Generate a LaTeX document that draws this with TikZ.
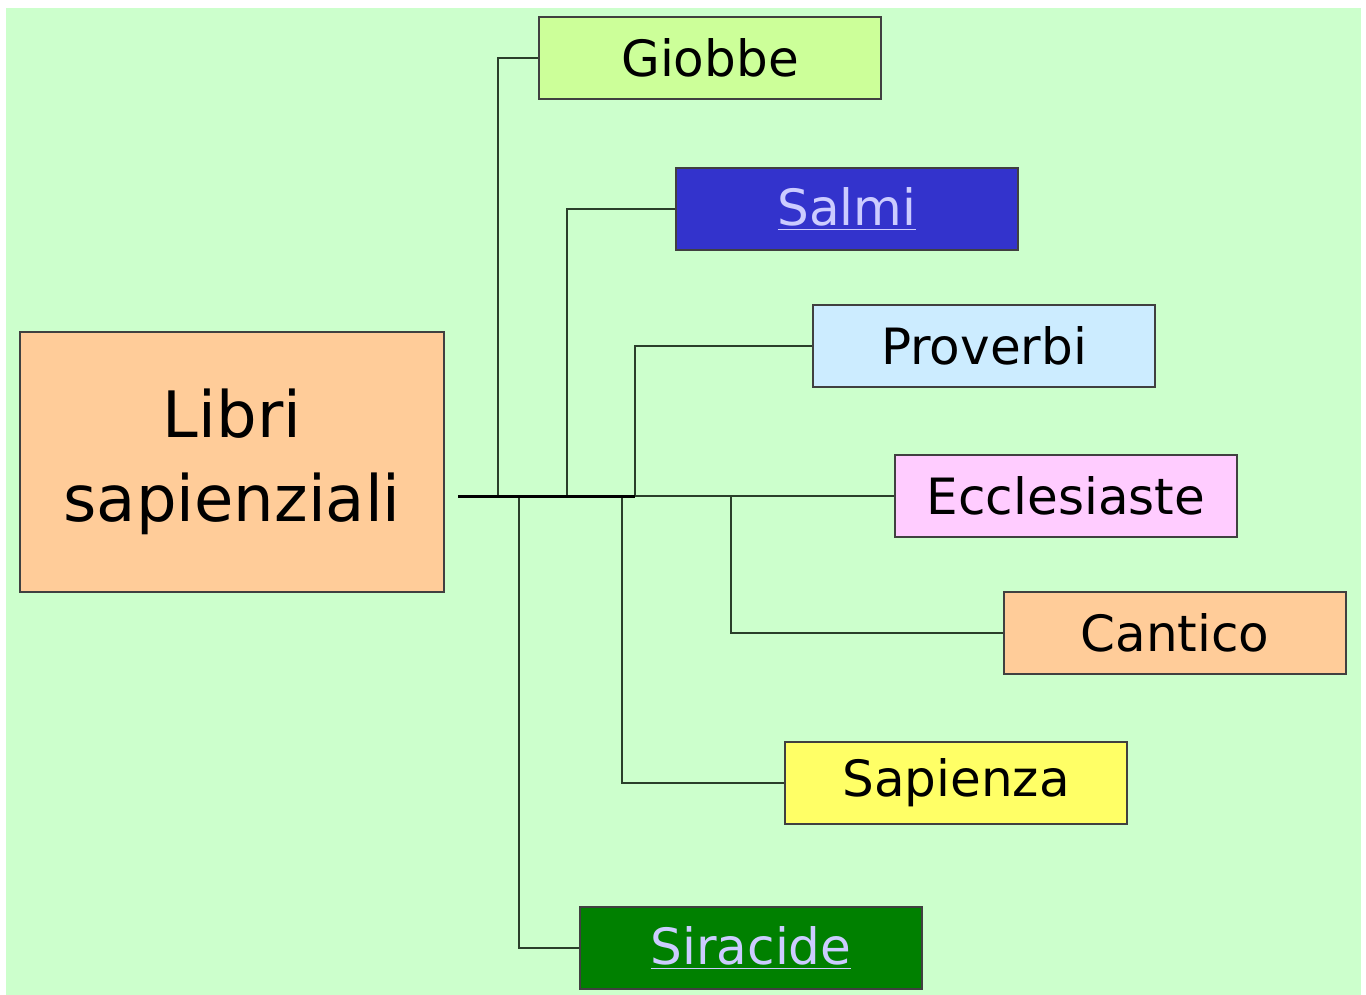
\documentclass[tikz,border=0pt]{standalone}
\usepackage{fontspec}
\setmainfont{DejaVu Sans}
\definecolor{fondo}{HTML}{CCFFCC}
\definecolor{verdino}{HTML}{CCFF99}
\definecolor{blu}{HTML}{3333CC}
\definecolor{celeste}{HTML}{CCECFF}
\definecolor{rosa}{HTML}{FFCCFF}
\definecolor{pesca}{HTML}{FFCC99}
\definecolor{giallo}{HTML}{FFFF66}
\definecolor{verde}{HTML}{008000}
\definecolor{lilla}{HTML}{CCCCFF}
\definecolor{linea}{HTML}{2A3F2A}
\tikzset{
	libro/.style={draw=black!75,line width=.6pt,minimum width=171pt,minimum height=41pt,inner sep=0pt,font=\fontsize{25}{30}\selectfont},
	ramo/.style={draw=linea,line width=.6pt},
}
\newcommand\link[1]{\textcolor{lilla}{\underline{#1}}}
\begin{document}
\begin{tikzpicture}[x=.5pt,y=-.5pt]
	\path[use as bounding box] (0,0) rectangle (1366,995);
	\fill[fondo] (6,8) rectangle (1361,995);
	\node[libro,fill=pesca,minimum width=212pt,minimum height=130pt,align=center,
		font=\fontsize{32}{42}\selectfont] (libri) at (232,462) {Libri\\sapienziali};
	\foreach \n/\x/\y/\c/\t in {giobbe/710/58/verdino/Giobbe,salmi/847/209/blu/\link{Salmi},
		proverbi/984/346/celeste/Proverbi,eccle/1066/496/rosa/Ecclesiaste,
		cantico/1175/633/pesca/Cantico,sapienza/956/783/giallo/Sapienza,
		siracide/751/948/verde/\link{Siracide}}
		\node[libro,fill=\c] (\n) at (\x,\y) {\t};
	\coordinate (tr) at (458,496);
	\draw[ramo] (tr) -- (eccle.west);
	\foreach \n/\x in {giobbe/498,salmi/567,proverbi/635,siracide/519,sapienza/622,cantico/731}
		\draw[ramo] (\x,496) coordinate (j\n) |- (\n.west);
	\draw[black,line width=1.5pt] (tr) -- (jproverbi);
\end{tikzpicture}
\end{document}
